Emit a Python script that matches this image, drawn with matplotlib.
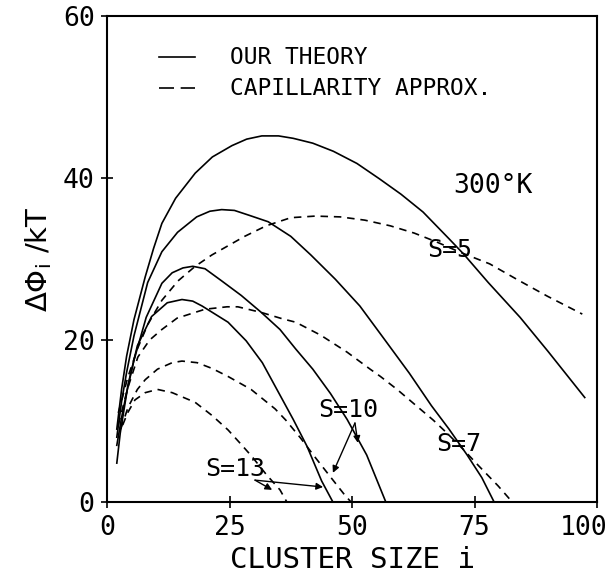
import matplotlib
matplotlib.use("Agg")
import matplotlib.pyplot as plt
import matplotlib.transforms as mtransforms

plt.rcParams['font.family'] = ['DejaVu Sans Mono', 'DejaVu Sans']
plt.rcParams['mathtext.fontset'] = 'dejavusans'

# ---- data (cluster size i, ΔΦ_i/kT) ----
theory_s5_i = [2, 3, 4, 5.5, 7.8, 9.5, 11.2, 14, 18, 21.5, 25.5, 28.5, 31.6, 35, 38, 42, 46.2, 51, 55.6, 60, 64.5, 69.8, 72.8, 77.8, 84.3, 90, 97.5]
theory_s5_v = [9, 14, 18, 22.5, 27.8, 31.3, 34.4, 37.5, 40.6, 42.6, 44, 44.8, 45.2, 45.2, 44.9, 44.3, 43.3, 41.8, 39.9, 38, 35.8, 32.5, 30.6, 27.1, 22.8, 18.6, 12.9]

theory_s7_i = [2, 3, 4, 5.5, 8.3, 11.2, 14.4, 18.3, 21, 23.4, 26, 29, 32.9, 37.5, 41.6, 46.6, 51.6, 56.6, 61.7, 66.2, 69.8, 73.5, 76.5, 79.0]
theory_s7_v = [8, 12.5, 16, 20.5, 27.1, 30.9, 33.3, 35.2, 35.9, 36.1, 36, 35.4, 34.6, 32.8, 30.5, 27.5, 24.2, 20.1, 15.9, 11.9, 9.0, 5.8, 3.0, 0]

theory_s10_i = [2, 3, 4, 5.5, 8, 11.2, 13.3, 15.5, 17.5, 20, 23.4, 27.4, 31.5, 35.3, 38.5, 42, 45.6, 49, 53, 56.9]
theory_s10_v = [7, 10.5, 13.5, 17.5, 22.8, 27, 28.3, 28.9, 29.1, 28.8, 27.3, 25.5, 23.4, 21.3, 18.9, 16.4, 13.4, 10.2, 5.8, 0]

theory_s13_i = [2, 2.7, 3.5, 4.3, 6.2, 9.1, 12.3, 15.3, 17.5, 19.4, 24.7, 28.4, 31.7, 35.3, 38, 40.8, 43.8, 46.1]
theory_s13_v = [4.8, 8.5, 11.5, 14.5, 19.3, 22.9, 24.6, 25.0, 24.8, 24.2, 22.2, 19.9, 17.2, 13.2, 10.2, 6.9, 2.6, 0]

cap_s5_i = [2.3, 4.2, 6.2, 8.3, 11.2, 14.5, 18, 21.4, 28.1, 32.5, 37.5, 42.5, 47.6, 52.6, 57.8, 62.7, 67.3, 71.8, 78.1, 83.9, 89.9, 97]
cap_s5_v = [11, 15.3, 18.9, 21.9, 24.9, 27.3, 29.1, 30.5, 32.8, 34.1, 35.1, 35.3, 35.2, 34.8, 34.1, 33.2, 32.1, 30.9, 29.4, 27.4, 25.4, 23.2]

cap_s7_i = [2.3, 4.2, 6.3, 8.7, 11.2, 14.3, 20, 24.5, 26.7, 31.5, 35.9, 38.5, 43.6, 49, 53.7, 55.8, 59.2, 62.7, 66.6, 69.4, 72.7, 75.8, 79.8, 82.7]
cap_s7_v = [9.5, 14, 17.9, 20, 21.3, 22.7, 23.8, 24.1, 24.1, 23.4, 22.6, 22.2, 20.6, 18.5, 16.4, 15.5, 13.9, 12.1, 10.1, 8.5, 6.5, 4.5, 2, 0]

cap_s10_i = [2.8, 4.3, 6.2, 7.8, 10.3, 13.3, 15.3, 18.4, 21.4, 24.7, 29.4, 34.3, 36.5, 39.5, 42.5, 45.6, 48.6, 49.8]
cap_s10_v = [9, 11.7, 13.9, 15.1, 16.4, 17.2, 17.4, 17.2, 16.5, 15.5, 13.9, 11.5, 10.1, 7.9, 5.5, 3.1, 0.8, 0]

cap_s13_i = [3.2, 4.2, 5.7, 7.8, 10.3, 13.3, 18, 21.4, 24.7, 27.4, 29.6, 32.5, 35.3, 36.7]
cap_s13_v = [9.5, 11, 12.6, 13.5, 13.9, 13.5, 12.3, 10.7, 8.9, 7.1, 5.6, 3.4, 1.5, 0]

x_ticks = [0, 25, 50, 75, 100]
y_ticks = [0, 20, 40, 60]

fig = plt.figure(figsize=(6.09, 5.87), dpi=100)
ax = fig.add_axes([0.1757, 0.1448, 0.8046, 0.8279])

lw = 1.2
dash = (0, (4.5, 3.5))
for xi, yv in [(theory_s5_i, theory_s5_v), (theory_s7_i, theory_s7_v),
               (theory_s10_i, theory_s10_v), (theory_s13_i, theory_s13_v)]:
    ax.plot(xi, yv, color='black', lw=lw, solid_joinstyle='round')
for xi, yv in [(cap_s5_i, cap_s5_v), (cap_s7_i, cap_s7_v),
               (cap_s10_i, cap_s10_v), (cap_s13_i, cap_s13_v)]:
    ax.plot(xi, yv, color='black', lw=lw, linestyle=dash)

ax.set_xlim(0, 100)
ax.set_ylim(0, 60)
ax.set_xticks(x_ticks)
ax.set_yticks(y_ticks)
ax.tick_params(direction='inout', length=8, width=1.2, labelsize=19, pad=5)
for s in ax.spines.values():
    s.set_linewidth(1.5)

# shift the "100" label left so it fits, as in the original
last = ax.get_xticklabels()[-1]
last.set_transform(last.get_transform() + mtransforms.ScaledTranslation(-13 / 100, 0, fig.dpi_scale_trans))

ax.set_xlabel('CLUSTER SIZE i', fontsize=21, labelpad=4)
ax.set_ylabel(r'$\mathrm{\Delta\Phi_{i}\ /kT}$', fontsize=21, labelpad=6)

# legend (drawn manually like the original)
ax.plot([10.6, 18], [54.9, 54.9], color='black', lw=lw, clip_on=False)
ax.plot([10.6, 18], [51.1, 51.1], color='black', lw=lw, linestyle=(0, (9, 4)), clip_on=False)
ax.text(25.1, 54.9, 'OUR THEORY', fontsize=16.5, va='center', ha='left')
ax.text(25.1, 51.1, 'CAPILLARITY APPROX.', fontsize=16.5, va='center', ha='left')

ax.text(78.8, 39.0, '300°K', fontsize=19, ha='center', va='center')

ax.text(70.0, 31.1, 'S=5', fontsize=18, ha='center', va='center')
ax.text(71.8, 7.2, 'S=7', fontsize=18, ha='center', va='center')
ax.text(49.2, 11.4, 'S=10', fontsize=18, ha='center', va='center')
ax.text(26.1, 4.1, 'S=13', fontsize=18, ha='center', va='center')

arrow = dict(arrowstyle='-|>', color='black', lw=1.0, mutation_scale=10, shrinkA=0, shrinkB=0)
ax.annotate('', xy=(51.2, 7.3), xytext=(50.6, 9.75), arrowprops=arrow)
ax.annotate('', xy=(46.1, 3.6), xytext=(50.6, 9.75), arrowprops=arrow)
ax.annotate('', xy=(44.1, 1.85), xytext=(30.2, 2.7), arrowprops=arrow)
ax.annotate('', xy=(33.7, 1.5), xytext=(30.2, 2.7), arrowprops=arrow)

fig.savefig('out.png', dpi=100)
